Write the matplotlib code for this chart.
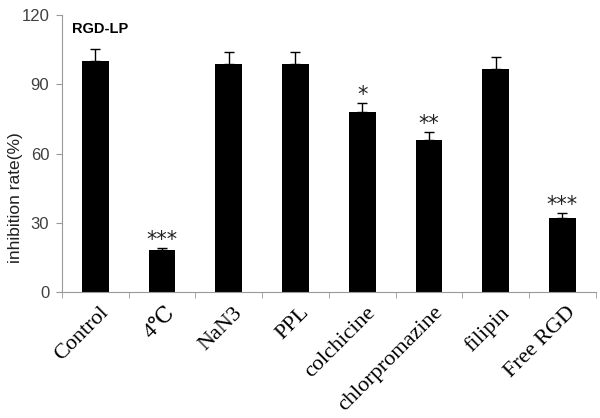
import numpy as np
import matplotlib.pyplot as plt
from matplotlib.transforms import ScaledTranslation

groups = ['Control', '4\u2103', 'NaN3', 'PPL', 'colchicine', 'chlorpromazine', 'filipin', 'Free RGD']
rate = [100, 18.2, 99, 99, 78, 66, 96.5, 32]
err = [5.2, 1.0, 5.0, 5.0, 4.0, 3.4, 5.2, 2.2]
stars = ['', '***', '', '', '*', '**', '', '***']

fig = plt.figure(figsize=(6, 4.18), dpi=100)
ax = fig.add_axes([0.103, 0.301, 0.890, 0.663])

x = np.arange(len(groups))
ax.bar(x, rate, width=0.4, color='black', zorder=2)
ax.errorbar(x, rate, yerr=[np.zeros(len(err)), err], fmt='none', ecolor='black',
            elinewidth=1, capsize=3.5, capthick=1, zorder=3)

# significance marks
for xi, r, e, s in zip(x, rate, err, stars):
    if s:
        ax.text(xi, r + e + 0.8, s, ha='center', va='baseline', fontsize=15,
                family='DejaVu Sans', color='#222222')

ax.set_xlim(-0.5, len(groups) - 0.5)
ax.set_ylim(0, 120)
ax.set_yticks([0, 30, 60, 90, 120])
ax.set_xticks(x)
ax.set_xticks(np.arange(len(groups) + 1) - 0.5, minor=True)
ax.set_xticklabels(groups, rotation=45, ha='right', va='top', rotation_mode='anchor',
                   family=['Liberation Serif', 'DejaVu Serif', 'Noto Sans CJK SC'], fontsize=16)
ax.tick_params(axis='x', which='major', length=0, pad=8)
ax.tick_params(axis='x', which='minor', length=4, color='#999999')
ax.tick_params(axis='y', length=4, color='#999999', labelsize=12, labelcolor='#404040', pad=5)
for lbl in ax.get_yticklabels():
    lbl.set_family('Liberation Sans')
shift = ScaledTranslation(3 / 72, 0, fig.dpi_scale_trans)
for lbl in ax.get_xticklabels():
    lbl.set_transform(lbl.get_transform() + shift)

for side in ['top', 'right']:
    ax.spines[side].set_visible(False)
for side in ['left', 'bottom']:
    ax.spines[side].set_color('#999999')

ax.set_ylabel('inhibition rate(%)', family='Liberation Sans', fontsize=12.5, color='#202020')
ax.yaxis.set_label_coords(-0.073, 0.343)
ax.text(0.02, 0.975, 'RGD-LP', transform=ax.transAxes, family='Liberation Sans',
        fontweight='bold', fontsize=10.5, va='top')

plt.savefig('out.png', dpi=100)
